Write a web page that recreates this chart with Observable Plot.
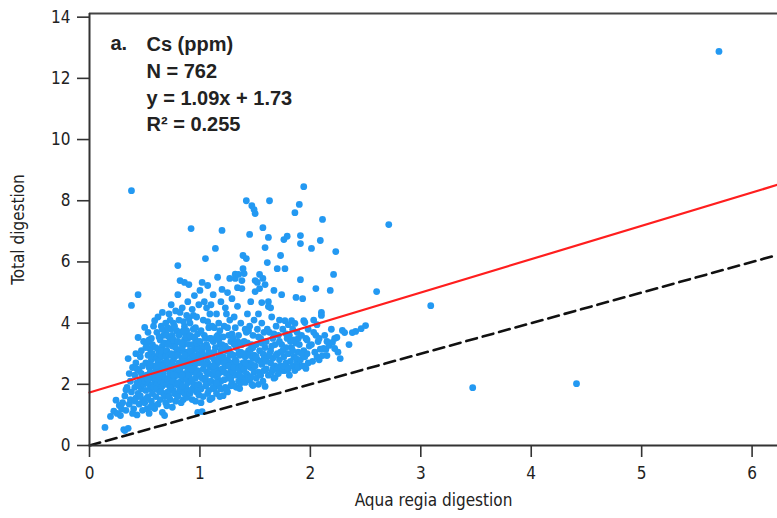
<!DOCTYPE html>
<html><head><meta charset="utf-8">
<script src="https://cdn.jsdelivr.net/npm/d3@7"></script>
<script src="https://cdn.jsdelivr.net/npm/@observablehq/plot@0.6"></script>
<style>body{margin:0;background:#fff}</style>
</head><body><div id="chart"></div>
<script>
// Axis settings
const xTicks = [0, 1, 2, 3, 4, 5, 6];
const yTicks = [0, 2, 4, 6, 8, 10, 12, 14];
const xDomain = [0, 6.23];
const yDomain = [0, 14.12];
const xLabel = "Aqua regia digestion";
const yLabel = "Total digestion";

// Regression (reported in chart) and 1:1 reference
const fitSlope = 1.09;
const fitIntercept = 1.73;
const panelTag = "a.";
const statLines = ["Cs (ppm)", "N = 762", "y = 1.09x + 1.73", "R\u00b2 = 0.255"];

// Cs samples: [aqua regia, total digestion]
const csPoints = [
[0.14,0.59],[0.19,0.95],[0.22,1.12],[0.24,1.48],[0.25,1.05],[0.27,1.31],[0.28,0.98],[0.29,1.2],
[0.31,0.52],[0.32,0.49],[0.35,0.56],[0.30,1.4],[0.32,1.62],[0.33,1.15],[0.34,1.9],[0.35,2.84],[0.36,1.35],[0.37,2.1],[0.38,1.75],[0.38,8.33],[0.38,4.58],[0.39,2.55],[0.39,1.05],[0.36,2.35],[0.33,1.82],[0.37,1.5],
[0.40,1.2],[0.41,1.9],[0.41,2.3],[0.42,1.55],[0.42,2.7],[0.43,1.0],[0.43,2.05],[0.44,3.53],[0.44,4.93],[0.44,1.7],[0.45,2.45],[0.45,1.35],[0.46,2.9],[0.46,2.15],[0.47,1.85],[0.47,3.1],[0.48,1.5],[0.48,2.6],[0.49,2.25],[0.49,3.4],[0.45,1.95],[0.47,2.35],[0.41,1.45],[0.43,2.5],[0.48,1.15],[0.46,1.62],[0.49,2.0],[0.42,3.0],
[0.50,3.86],[0.50,2.1],[0.50,1.4],[0.51,2.7],[0.51,1.8],[0.52,3.33],[0.52,2.3],[0.52,1.2],[0.53,2.95],[0.53,1.6],[0.53,3.7],[0.54,2.0],[0.54,2.55],[0.54,1.05],[0.55,3.15],[0.55,1.85],[0.55,2.4],[0.56,2.8],[0.56,1.45],[0.56,3.5],[0.57,2.2],[0.57,1.7],[0.57,3.0],[0.58,2.6],[0.58,1.3],[0.58,3.9],[0.59,4.08],[0.59,1.21],[0.59,2.05],[0.59,2.9],[0.51,3.2],[0.53,2.15],[0.55,2.65],[0.56,1.95],[0.57,3.3],[0.58,2.35],[0.52,1.55],[0.54,3.45],[0.58,1.9],[0.55,1.25],
[0.60,2.5],[0.60,3.2],[0.60,1.6],[0.61,2.0],[0.61,3.7],[0.61,2.85],[0.62,1.35],[0.62,2.3],[0.62,4.2],[0.63,3.0],[0.63,1.8],[0.63,2.65],[0.64,3.45],[0.64,2.1],[0.64,1.5],[0.65,2.9],[0.65,3.9],[0.65,2.4],[0.66,1.08],[0.66,4.35],[0.66,1.95],[0.66,3.25],[0.67,2.7],[0.67,1.7],[0.67,3.6],[0.68,0.98],[0.68,2.2],[0.68,3.05],[0.69,2.55],[0.69,1.4],[0.69,4.0],[0.60,2.2],[0.61,1.85],[0.62,2.75],[0.63,3.55],[0.64,2.45],[0.65,1.9],[0.66,2.6],[0.67,2.05],[0.68,3.35],[0.69,2.9],[0.62,3.15],[0.64,1.75],[0.65,3.1],[0.67,2.35],[0.68,1.6],[0.69,3.7],[0.63,2.25],[0.66,3.8],[0.61,2.6],
[0.70,2.0],[0.70,3.1],[0.70,1.3],[0.71,2.5],[0.71,3.85],[0.71,1.75],[0.72,2.95],[0.72,4.3],[0.72,2.2],[0.73,1.5],[0.73,3.4],[0.73,2.7],[0.74,1.95],[0.74,4.6],[0.74,3.0],[0.75,2.4],[0.75,1.25],[0.75,3.6],[0.76,2.8],[0.76,1.8],[0.76,4.0],[0.77,1.7],[0.77,2.25],[0.77,3.3],[0.78,2.6],[0.78,4.4],[0.78,1.45],[0.79,3.05],[0.79,2.05],[0.79,3.75],[0.80,5.88],[0.80,4.93],[0.70,2.75],[0.71,2.15],[0.72,3.55],[0.73,2.35],[0.74,2.6],[0.75,3.25],[0.75,2.1],[0.76,3.45],[0.77,2.9],[0.78,2.0],[0.79,2.45],[0.72,1.6],[0.74,3.8],[0.76,2.3],[0.78,3.2],[0.71,3.3],[0.73,4.1],[0.77,3.9],[0.79,1.65],[0.70,3.6],[0.75,2.95],[0.73,1.9],[0.77,2.55],
[0.80,2.3],[0.80,3.4],[0.80,1.6],[0.81,2.7],[0.81,4.1],[0.81,1.95],[0.82,5.39],[0.82,3.1],[0.82,2.45],[0.83,1.4],[0.83,3.7],[0.83,2.1],[0.84,2.85],[0.84,4.5],[0.84,1.75],[0.85,3.3],[0.85,2.2],[0.85,1.5],[0.86,5.33],[0.86,2.6],[0.86,3.9],[0.87,1.9],[0.87,3.05],[0.87,2.35],[0.88,1.57],[0.88,4.25],[0.88,2.8],[0.89,3.5],[0.89,2.05],[0.89,4.7],[0.80,2.95],[0.81,3.6],[0.82,1.8],[0.83,2.6],[0.84,3.2],[0.84,2.3],[0.85,2.75],[0.86,1.7],[0.86,3.45],[0.87,2.65],[0.88,3.75],[0.88,2.15],[0.89,2.45],[0.89,3.0],[0.82,4.35],[0.85,4.05],[0.87,3.55],[0.83,3.35],[0.80,2.05],[0.86,2.95],[0.88,1.85],[0.84,1.95],[0.81,2.5],[0.89,1.75],[0.85,3.75],
[0.90,5.26],[0.90,2.3],[0.90,3.3],[0.91,1.7],[0.91,2.75],[0.91,4.0],[0.92,7.09],[0.92,2.1],[0.92,3.55],[0.93,1.5],[0.93,2.9],[0.93,4.45],[0.94,2.4],[0.94,3.8],[0.94,1.9],[0.95,4.9],[0.95,3.15],[0.95,2.6],[0.96,1.45],[0.96,3.45],[0.96,2.2],[0.97,4.2],[0.97,2.85],[0.97,1.75],[0.98,1.08],[0.98,3.65],[0.98,2.45],[0.99,3.0],[0.99,2.0],[0.99,4.6],[0.90,2.65],[0.91,3.6],[0.92,2.5],[0.93,3.3],[0.94,2.95],[0.95,2.0],[0.96,3.85],[0.97,2.35],[0.98,3.2],[0.99,2.7],[0.92,1.8],[0.94,4.25],[0.96,2.7],[0.98,1.95],[0.91,3.1],[0.95,3.55],[0.97,3.35],[0.93,2.15],[0.99,1.65],[0.90,4.15],
[1.00,5.07],[1.00,2.3],[1.00,3.4],[1.01,1.85],[1.01,2.8],[1.02,5.33],[1.02,1.11],[1.02,3.1],[1.03,2.5],[1.03,4.1],[1.03,1.6],[1.04,3.6],[1.04,2.15],[1.05,6.11],[1.05,2.9],[1.05,1.95],[1.06,4.5],[1.06,2.4],[1.06,3.3],[1.07,5.23],[1.07,1.7],[1.07,2.7],[1.08,3.85],[1.08,2.05],[1.08,3.05],[1.09,2.55],[1.09,4.3],[1.09,1.5],[1.00,2.75],[1.01,3.75],[1.02,2.2],[1.03,3.25],[1.04,2.65],[1.04,4.7],[1.05,3.5],[1.06,2.0],[1.07,3.2],[1.08,2.35],[1.09,3.5],[1.01,1.4],[1.03,2.95],[1.05,2.2],[1.07,4.05],[1.08,1.8],[1.06,2.85],
[1.10,3.0],[1.10,2.1],[1.10,4.6],[1.11,2.6],[1.11,1.55],[1.12,4.93],[1.12,3.4],[1.12,2.3],[1.13,1.85],[1.13,3.85],[1.13,2.8],[1.14,6.44],[1.14,2.05],[1.14,3.2],[1.15,4.3],[1.15,2.5],[1.15,1.7],[1.16,3.6],[1.16,2.2],[1.16,5.5],[1.17,2.9],[1.17,1.95],[1.17,4.0],[1.18,2.4],[1.18,3.3],[1.18,1.6],[1.19,2.75],[1.19,4.7],[1.19,2.1],[1.10,3.5],[1.11,2.9],[1.12,1.9],[1.13,2.45],[1.14,2.65],[1.15,3.55],[1.16,2.7],[1.17,2.35],[1.18,3.75],[1.19,3.1],[1.11,3.9],[1.13,3.05],[1.15,2.05],[1.17,3.45],[1.19,1.85],[1.12,2.6],
[1.20,7.03],[1.20,5.1],[1.20,2.5],[1.20,3.3],[1.21,1.63],[1.21,2.9],[1.22,3.9],[1.22,2.15],[1.23,4.5],[1.23,2.6],[1.23,1.9],[1.24,3.1],[1.24,2.35],[1.25,5.0],[1.25,2.8],[1.25,1.75],[1.26,3.6],[1.26,2.2],[1.27,5.46],[1.27,2.95],[1.27,4.1],[1.28,2.45],[1.28,1.95],[1.28,3.4],[1.29,2.7],[1.29,4.8],[1.29,2.05],[1.21,3.55],[1.22,2.7],[1.23,3.25],[1.24,1.8],[1.25,3.85],[1.26,2.6],[1.27,2.3],[1.28,3.0],[1.29,3.65],[1.24,4.3],[1.26,3.15],[1.22,2.4],[1.28,2.2],
[1.30,2.4],[1.30,3.5],[1.31,1.95],[1.31,4.2],[1.32,5.46],[1.32,2.8],[1.32,5.6],[1.33,1.9],[1.33,3.2],[1.33,2.3],[1.34,5.16],[1.34,2.6],[1.34,4.55],[1.35,5.59],[1.35,2.1],[1.35,3.6],[1.36,1.86],[1.36,2.95],[1.37,4.0],[1.37,2.45],[1.38,5.13],[1.38,5.39],[1.38,3.3],[1.39,6.21],[1.39,5.78],[1.39,2.2],[1.39,2.7],[1.30,2.95],[1.31,2.55],[1.32,3.85],[1.33,2.75],[1.34,3.4],[1.35,2.5],[1.36,3.35],[1.36,2.3],[1.37,3.05],[1.38,2.6],[1.37,2.05],[1.31,3.3],[1.35,3.0],
[1.40,5.62],[1.40,2.5],[1.40,3.4],[1.41,2.06],[1.41,2.9],[1.42,8.0],[1.42,6.11],[1.42,3.7],[1.43,2.3],[1.43,4.3],[1.44,2.7],[1.44,3.1],[1.45,6.9],[1.45,2.15],[1.45,3.9],[1.46,2.55],[1.46,4.7],[1.47,7.84],[1.47,3.3],[1.47,2.0],[1.48,1.96],[1.48,2.85],[1.48,3.6],[1.49,7.71],[1.49,2.4],[1.49,4.1],[1.40,3.0],[1.41,3.8],[1.42,2.35],[1.43,3.35],[1.44,2.2],[1.44,3.75],[1.45,2.95],[1.46,3.15],[1.46,2.25],[1.47,2.65],[1.48,3.2],[1.49,2.95],[1.43,2.6],[1.41,2.7],
[1.50,7.58],[1.50,5.39],[1.50,5.03],[1.50,2.6],[1.51,3.3],[1.51,2.2],[1.52,5.33],[1.52,3.8],[1.52,2.8],[1.53,2.4],[1.53,4.3],[1.54,5.59],[1.54,5.13],[1.54,3.1],[1.55,2.3],[1.55,3.5],[1.56,4.67],[1.56,2.65],[1.57,7.12],[1.57,5.46],[1.57,2.1],[1.57,3.0],[1.58,3.7],[1.58,2.45],[1.59,6.47],[1.59,5.26],[1.59,1.93],[1.59,3.2],[1.51,2.9],[1.53,3.55],[1.55,2.75],[1.56,3.35],[1.58,2.85],[1.53,2.0],[1.56,4.0],
[1.60,2.5],[1.60,3.4],[1.61,5.98],[1.61,2.9],[1.62,6.8],[1.62,4.7],[1.62,4.54],[1.62,2.3],[1.63,8.0],[1.63,3.7],[1.64,2.7],[1.64,3.1],[1.65,4.2],[1.65,2.4],[1.66,3.5],[1.66,2.85],[1.67,5.07],[1.67,2.2],[1.68,2.22],[1.68,3.3],[1.68,2.6],[1.69,3.9],[1.69,2.95],[1.60,2.75],[1.63,3.0],[1.65,3.25],[1.66,2.5],[1.67,3.65],[1.61,3.8],[1.64,4.5],
[1.70,5.78],[1.70,3.0],[1.70,2.5],[1.71,3.6],[1.72,2.8],[1.72,4.1],[1.73,6.21],[1.73,2.6],[1.74,4.93],[1.74,3.3],[1.75,2.45],[1.75,3.8],[1.76,6.73],[1.76,2.9],[1.77,5.78],[1.77,4.08],[1.77,2.45],[1.78,3.2],[1.78,2.7],[1.79,6.84],[1.79,3.5],[1.79,2.55],[1.71,2.35],[1.73,3.05],[1.75,3.1],[1.76,2.6],[1.78,3.65],[1.72,3.4],
[1.80,3.0],[1.80,2.5],[1.81,3.6],[1.82,2.75],[1.83,4.08],[1.83,3.2],[1.84,2.6],[1.84,3.8],[1.85,2.9],[1.86,7.61],[1.86,3.99],[1.86,2.45],[1.87,4.84],[1.87,3.35],[1.88,2.7],[1.88,3.7],[1.89,3.05],[1.89,2.55],[1.81,2.3],[1.82,3.4],[1.85,3.45],[1.87,2.85],[1.89,3.5],[1.84,3.1],[1.80,3.95],
[1.90,7.88],[1.90,3.3],[1.91,6.86],[1.91,6.6],[1.91,5.42],[1.91,2.8],[1.92,3.6],[1.93,4.8],[1.93,2.6],[1.94,4.08],[1.94,3.1],[1.95,4.02],[1.95,2.9],[1.96,2.52],[1.96,3.5],[1.97,3.0],[1.98,3.8],[1.98,2.7],[1.99,3.25],[1.92,3.0],[1.94,8.46],[1.97,3.45],
[2.01,6.44],[2.01,3.3],[2.02,2.75],[2.03,3.7],[2.04,3.05],[2.05,5.13],[2.05,3.6],[2.06,2.9],[2.07,3.4],[2.08,3.5],[2.08,2.8],[2.09,6.7],[2.09,3.15],[2.03,4.1],[2.06,3.95],
[2.10,4.35],[2.10,4.25],[2.11,7.39],[2.11,2.94],[2.12,3.17],[2.13,3.6],[2.14,3.14],[2.15,2.94],[2.15,3.4],[2.17,3.27],[2.18,5.07],[2.19,3.8],
[2.20,3.37],[2.21,5.59],[2.22,3.5],[2.22,3.17],[2.23,6.34],[2.24,3.53],[2.27,2.84],[2.29,3.76],[2.25,3.05],
[2.31,3.69],[2.35,3.3],[2.38,3.69],[2.41,3.73],[2.46,3.82],[2.50,3.92],[2.60,5.03],[2.71,7.22],[3.09,4.57],[3.47,1.89],[4.41,2.02],[5.70,12.88]
];

const lineX = xDomain;
const fitLine = lineX.map(x => ({x, y: fitSlope * x + fitIntercept}));
const oneToOne = lineX.map(x => ({x, y: x}));

const axisFont = "'Liberation Sans Narrow','Arial Narrow','DejaVu Sans Condensed',sans-serif";
const boldFont = "'Liberation Sans',Arial,Helvetica,sans-serif";

const chart = Plot.plot({
  width: 777,
  height: 518,
  marginLeft: 89,
  marginRight: 0,
  marginTop: 13,
  marginBottom: 73,
  style: {fontFamily: axisFont, fontSize: "17px", color: "#222", background: "#fff", overflow: "visible"},
  x: {domain: xDomain},
  y: {domain: yDomain},
  marks: [
    Plot.dot(csPoints, {x: d => d[0], y: d => d[1], r: 3.4, fill: "#2399f2", stroke: "none"}),
    Plot.line(oneToOne, {x: "x", y: "y", stroke: "#111", strokeWidth: 2.6, strokeDasharray: "11,6"}),
    Plot.line(fitLine, {x: "x", y: "y", stroke: "#ff1e1e", strokeWidth: 2.2}),
    Plot.ruleY([yDomain[1]], {stroke: "#444", strokeWidth: 2}),
    Plot.ruleY([0], {stroke: "#333", strokeWidth: 2}),
    Plot.ruleX([0], {stroke: "#333", strokeWidth: 2}),
    Plot.axisX(xTicks, {tickSize: 12, tickPadding: 9, strokeWidth: 1.6, stroke: "#333", fill: "#222", fontSize: 17,
      label: xLabel, labelAnchor: "center", labelOffset: 60, labelArrow: "none"}),
    Plot.axisY(yTicks, {tickSize: 12, tickPadding: 7, strokeWidth: 1.6, stroke: "#333", fill: "#222", fontSize: 17,
      label: yLabel, labelAnchor: "center", labelOffset: 78, labelArrow: "none"}),
    Plot.text([panelTag], {text: d => d, frameAnchor: "top-left", dx: 21, dy: 22, lineAnchor: "top",
      textAnchor: "start", fontFamily: boldFont, fontWeight: "bold", fontSize: 20, fill: "#222"}),
    Plot.text([statLines.join("\n")], {text: d => d, frameAnchor: "top-left", dx: 57, dy: 19, lineAnchor: "top",
      lineHeight: 1.33, textAnchor: "start", fontFamily: boldFont, fontWeight: "bold", fontSize: 20, fill: "#222"})
  ]
});
document.getElementById("chart").appendChild(chart);
</script>
</body></html>
